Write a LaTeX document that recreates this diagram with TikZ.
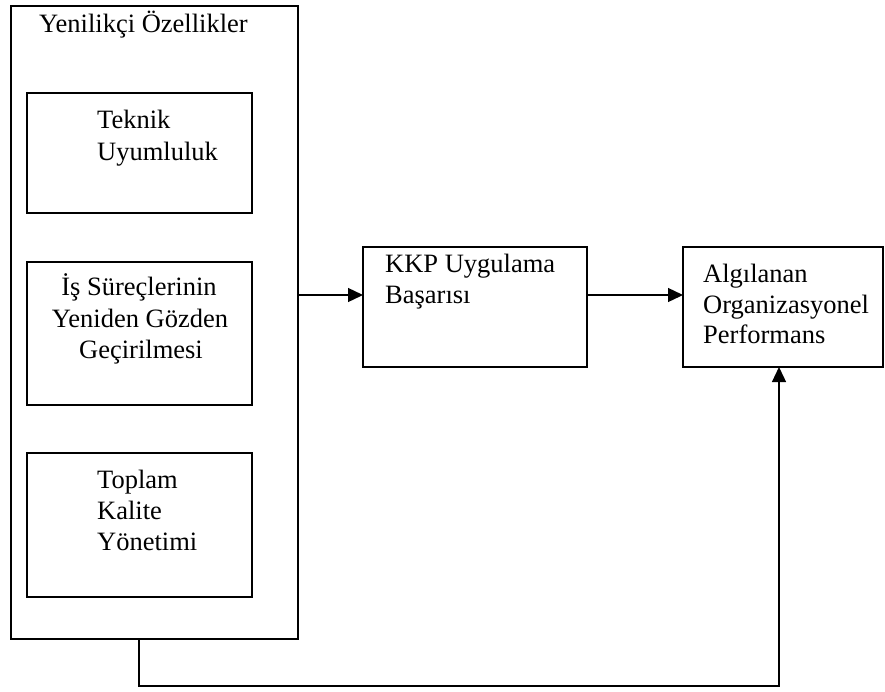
\documentclass[tikz,border=0pt]{standalone}
\usepackage{fontspec}
\setmainfont{Liberation Serif}
\usetikzlibrary{arrows.meta}
\begin{document}
\begin{tikzpicture}[x=1pt,y=-1pt,
  box/.style={draw,line width=1.3pt,inner sep=0pt,outer sep=0pt,anchor=north west},
  lbl/.style={anchor=base west,inner sep=0pt,font=\fontsize{26.5}{31}\selectfont},
  clbl/.style={anchor=base,inner sep=0pt,font=\fontsize{26.5}{31}\selectfont},
  arr/.style={line width=1.3pt,-{Triangle[length=15pt,width=14pt]}}]
\useasboundingbox (0,0) rectangle (885,691);
% boxes
\node[box,minimum width=287pt,minimum height=633pt] (outer) at (11,6) {};
\node[box,minimum width=225pt,minimum height=120pt] (tek) at (27,93) {};
\node[box,minimum width=225pt,minimum height=143pt] (is) at (27,262) {};
\node[box,minimum width=225pt,minimum height=144pt] (top) at (27,453) {};
\node[box,minimum width=224pt,minimum height=120pt] (kkp) at (363,247) {};
\node[box,minimum width=200pt,minimum height=120pt] (alg) at (683,247) {};
% texts
\node[lbl] (t0) at (39,32) {Yenilikçi Özellikler};
\node[lbl] (t1) at (97,128) {Teknik};
\node[lbl] (t2) at (97,160) {Uyumluluk};
\node[clbl] (t3) at (139,295) {İş Süreçlerinin};
\node[clbl] (t4) at (140,327) {Yeniden Gözden};
\node[clbl] (t5) at (141,358) {Geçirilmesi};
\node[lbl] (t6) at (97,488) {Toplam};
\node[lbl] (t7) at (97,519) {Kalite};
\node[lbl] (t8) at (97,550) {Yönetimi};
\node[lbl] (t9) at (385,272) {KKP Uygulama};
\node[lbl] (t10) at (385,303) {Başarısı};
\node[lbl] (t11) at (703,282) {Algılanan};
\node[lbl] (t12) at (703,313) {Organizasyonel};
\node[lbl] (t13) at (703,343) {Performans};
% connectors
\coordinate (a1) at (298,295);
\coordinate (b1) at (139,686);
\coordinate (b2) at (779,686);
\draw[arr] (outer.east |- a1) -- (kkp.west |- a1);
\draw[arr] (kkp.east |- a1) -- (alg.west |- a1);
\draw[arr] (b1 |- outer.south) -- (b1) -- (b2) -- (b2 |- alg.south);
\end{tikzpicture}
\end{document}
